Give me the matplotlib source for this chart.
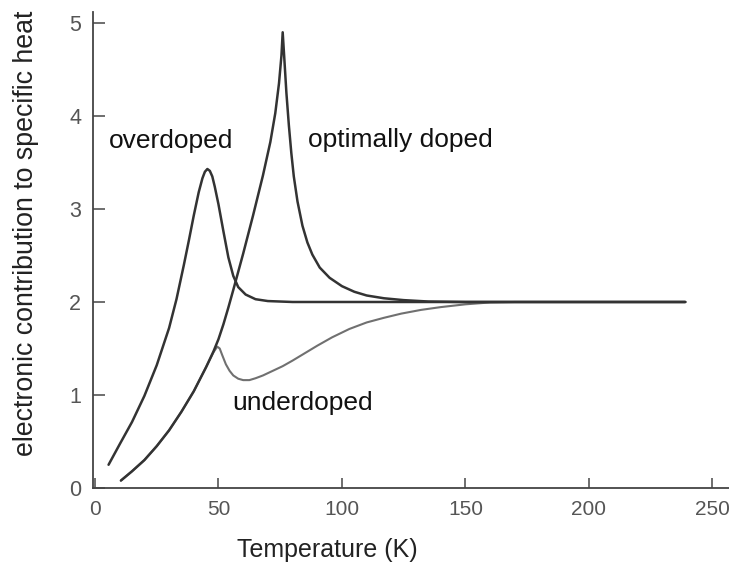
import matplotlib
matplotlib.use("Agg")
import matplotlib.pyplot as plt

plt.rcParams['font.family'] = ['Liberation Sans', 'DejaVu Sans']

# ---- data ----
over_T = [5.5, 10, 15, 20, 25, 30, 33, 36, 38, 40, 42, 43.5, 44.5, 45.5, 46.5, 47.5,
          48.5, 50, 52, 54, 56, 58, 61, 65, 70, 80, 100, 150, 200, 239]
over_C = [0.25, 0.47, 0.71, 0.99, 1.32, 1.72, 2.03, 2.4, 2.66, 2.93, 3.18, 3.33, 3.4,
          3.43, 3.41, 3.35, 3.24, 3.05, 2.76, 2.48, 2.28, 2.16, 2.08, 2.03, 2.01, 2.0,
          2.0, 2.0, 2.0, 2.0]

opt_T = [10.5, 15, 20, 25, 30, 35, 40, 45, 48, 50, 52, 54, 56, 60, 64, 68, 71, 73, 74.5,
         75.5, 76, 76.7, 77.5, 78.5, 79.5, 80.5, 82, 84, 86, 88, 91, 95, 100, 105, 110,
         117, 125, 135, 150, 200, 239]
opt_C = [0.08, 0.18, 0.3, 0.45, 0.62, 0.82, 1.04, 1.3, 1.47, 1.6, 1.76, 1.94, 2.13, 2.52,
         2.93, 3.36, 3.72, 4.03, 4.35, 4.65, 4.9, 4.6, 4.25, 3.9, 3.6, 3.35, 3.08, 2.82,
         2.64, 2.51, 2.37, 2.26, 2.17, 2.11, 2.07, 2.04, 2.02, 2.005, 2.0, 2.0, 2.0]

under_T = [10.5, 15, 20, 25, 30, 35, 40, 45, 48, 49.5, 50.5, 51.5, 53, 54.5, 56, 58, 60,
           62.5, 65, 68, 72, 76, 80, 85, 90, 96, 103, 110, 117, 124, 132, 140, 150, 160,
           170, 200, 239]
under_C = [0.08, 0.18, 0.3, 0.45, 0.62, 0.82, 1.04, 1.3, 1.46, 1.52, 1.5, 1.43, 1.33,
           1.26, 1.21, 1.175, 1.16, 1.16, 1.18, 1.21, 1.26, 1.31, 1.37, 1.45, 1.53, 1.62,
           1.71, 1.78, 1.83, 1.875, 1.915, 1.945, 1.975, 1.995, 2.0, 2.0, 2.0]

x_ticks = [0, 50, 100, 150, 200, 250]
y_ticks = [0, 1, 2, 3, 4, 5]

# ---- figure ----
fig = plt.figure(figsize=(7.29, 5.71), dpi=100)
ax = fig.add_axes([93 / 729, 1 - 488 / 571, 1 - 93 / 729, (488 - 12) / 571])

style = dict(solid_capstyle='round', solid_joinstyle='round')
ax.plot(under_T, under_C, color='#707070', lw=1.5, **style)
ax.plot(over_T, over_C, color='#333333', lw=1.8, **style)
ax.plot(opt_T, opt_C, color='#333333', lw=1.8, **style)

ax.set_xlim(-0.8, 256.7)
ax.set_ylim(0, 5.118)
ax.set_xticks(x_ticks)
ax.set_yticks(y_ticks)

for s in ['top', 'right']:
    ax.spines[s].set_visible(False)
for s in ['left', 'bottom']:
    ax.spines[s].set_color('#444444')
    ax.spines[s].set_linewidth(1.3)

ax.tick_params(axis='x', direction='in', length=7, width=1.2, color='#555555',
               labelsize=15, labelcolor='#555555', pad=8.5)
ax.tick_params(axis='y', direction='in', length=8.5, width=1.2, color='#555555',
               labelsize=15.5, labelcolor='#555555', pad=8.5)

ax.text(5.7, 3.66, 'overdoped', fontsize=19, va='baseline', ha='left', color='#111111')
ax.text(86.2, 3.67, 'optimally doped', fontsize=19, va='baseline', ha='left', color='#111111')
ax.text(55.5, 0.84, 'underdoped', fontsize=19, va='baseline', ha='left', color='#111111')

fig.text(327 / 729, 1 - 550 / 571, 'Temperature (K)', fontsize=18,
         ha='center', va='center', color='#222222')
fig.text(26 / 729, 1 - 233 / 571, 'electronic contribution to specific heat', fontsize=19.3,
         rotation=90, ha='center', va='center', color='#222222')

fig.savefig('out.png', dpi=100)
